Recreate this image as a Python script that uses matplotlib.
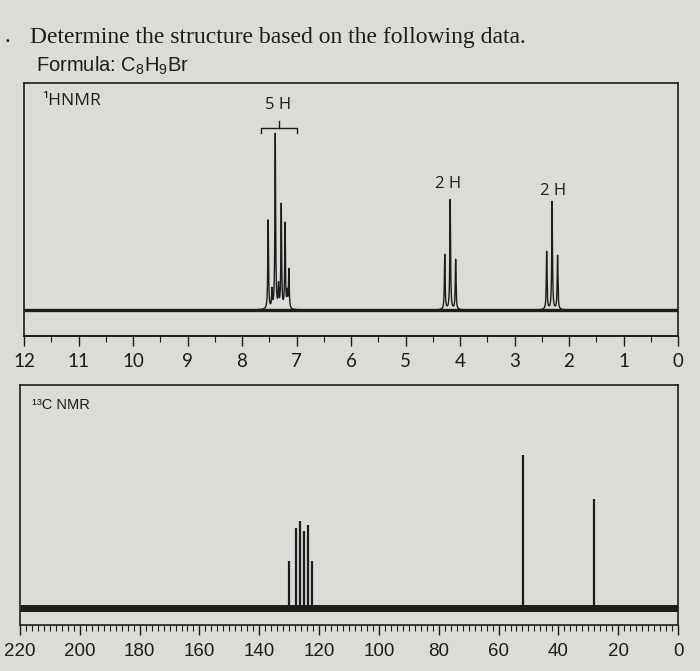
import numpy as np
import matplotlib.pyplot as plt
from matplotlib.ticker import MultipleLocator

# -----------------------------------
# Data
# -----------------------------------

# 1H NMR peaks (ppm, relative height)
h_shift = [7.52, 7.45, 7.39, 7.33, 7.28, 7.21, 7.17, 7.14,
           4.28, 4.18, 4.08,
           2.41, 2.31, 2.21]
h_height = [89, 18, 175, 22, 104, 85, 15, 39,
            55, 110, 50,
            58, 108, 54]

# 1H integration labels
h_int_labels = ["5 H", "2 H", "2 H"]
h_int_pos = [7.33, 4.22, 2.30]
h_int_y = [205, 126, 119]

# 13C NMR peaks (ppm, relative height)
c_shift = [130.0, 127.8, 126.3, 125.2, 123.7, 122.3, 51.7, 28.1]
c_height = [47, 80, 87, 77, 83, 47, 153, 109]

h_ticks = list(range(12, -1, -1))
c_ticks = list(range(220, -1, -20))

# -----------------------------------
# Style
# -----------------------------------

bg = "#dcdcd7"
ink = "#1c1c1c"
plt.rcParams['mathtext.fontset'] = 'custom'
plt.rcParams['mathtext.rm'] = 'Liberation Sans'

W, H = 700, 671
fig = plt.figure(figsize=(7, 6.71), dpi=100, facecolor=bg)


def box(l, t, r, b):
    return [l / W, 1 - b / H, (r - l) / W, (b - t) / H]


# -----------------------------------
# Titles
# -----------------------------------

fig.text(4 / W, 1 - 37 / H, ".", family="Liberation Serif", fontsize=17,
         color=ink, va="center")
fig.text(30 / W, 1 - 37 / H, "Determine the structure based on the following data.",
         family="Liberation Serif", fontsize=17, color=ink, va="center")
fig.text(36 / W, 1 - 66 / H, r"Formula: $\mathrm{C_8H_9Br}$",
         family="Liberation Sans", fontsize=14.5, color=ink, va="center")

# -----------------------------------
# 1H NMR
# -----------------------------------

ax_h = fig.add_axes(box(24, 83, 678, 336))
ax_h.set_facecolor(bg)

x = np.linspace(12, 0, 30000)
w = 0.008
y = np.zeros_like(x)
for s, hgt in zip(h_shift, h_height):
    y += hgt / (1 + ((x - s) / w) ** 2)

ax_h.plot(x, y, color=ink, lw=1.0)
ax_h.plot([12, 0], [0, 0], color=ink, lw=2.4, solid_capstyle="butt")
ax_h.set_xlim(12, 0)
ax_h.set_ylim(-26, 227)

ax_h.xaxis.set_minor_locator(MultipleLocator(0.5))
ax_h.set_xticks(h_ticks)
ax_h.set_xticklabels([str(t) for t in h_ticks], family="Lato", fontsize=13.5, color=ink)
ax_h.tick_params(axis="x", which="major", length=7, width=1, color=ink, pad=5)
ax_h.tick_params(axis="x", which="minor", length=4, width=0.8, color=ink)
ax_h.set_yticks([])
for sp in ax_h.spines.values():
    sp.set_color(ink)
    sp.set_linewidth(1.2)
ax_h.spines["bottom"].set_linewidth(1.4)

for lab, px, py in zip(h_int_labels, h_int_pos, h_int_y):
    ax_h.text(px, py, lab, family="Open Sans", fontsize=12, color=ink,
              ha="center", va="center")

# bracket over the aromatic multiplet
ax_h.plot([7.65, 7.65, 7.0, 7.0], [177, 182, 182, 177], color=ink, lw=1)
ax_h.plot([7.33, 7.33], [182, 189], color=ink, lw=1)

ax_h.text(0.028, 0.93, "¹HNMR", transform=ax_h.transAxes,
          family="Open Sans", fontsize=12.5, color=ink, va="center")

# -----------------------------------
# 13C NMR
# -----------------------------------

ax_c = fig.add_axes(box(20, 385, 678, 625))
ax_c.set_facecolor(bg)

ax_c.vlines(c_shift, 0, c_height, color=ink, lw=1.6)
ax_c.plot([220, 0], [0, 0], color=ink, lw=5, solid_capstyle="butt")
ax_c.set_xlim(220, 0)
ax_c.set_ylim(-17, 223)

ax_c.xaxis.set_minor_locator(MultipleLocator(2))
ax_c.set_xticks(c_ticks)
ax_c.set_xticklabels([str(t) for t in c_ticks], family="Liberation Sans",
                     fontsize=13.5, color=ink)
ax_c.tick_params(axis="x", which="major", length=7, width=1, color=ink, pad=6)
ax_c.tick_params(axis="x", which="minor", length=4, width=0.8, color=ink)
ax_c.set_yticks([])
for sp in ax_c.spines.values():
    sp.set_color(ink)
    sp.set_linewidth(1.2)

ax_c.text(0.018, 0.917, "¹³C NMR", transform=ax_c.transAxes,
          family="Liberation Sans", fontsize=10.5, color=ink, va="center")

plt.savefig("out.png", dpi=100, facecolor=bg)
